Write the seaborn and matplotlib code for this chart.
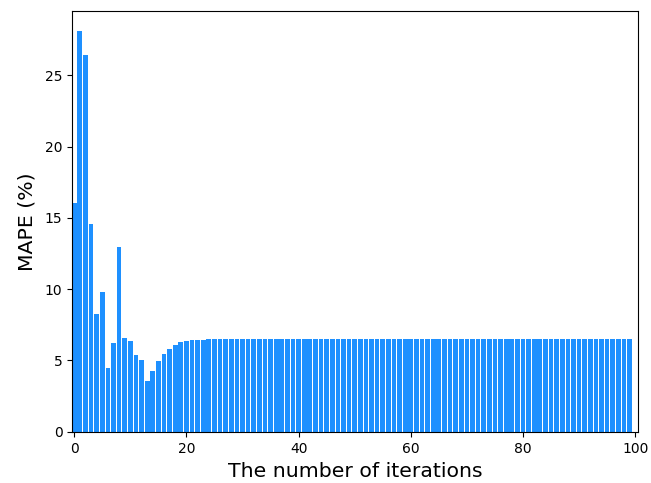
import matplotlib
matplotlib.use("Agg")
import matplotlib.pyplot as plt
import seaborn as sns
import pandas as pd

# MAPE per iteration
mape_head = [16.05, 28.1, 26.4, 14.6, 8.27, 9.8, 4.5, 6.25, 12.95, 6.6,
             6.38, 5.4, 5.05, 3.58, 4.27, 4.97, 5.46, 5.82, 6.1, 6.3,
             6.4, 6.44, 6.45, 6.47, 6.51]
mape_tail = [6.52, 6.52, 6.52, 6.52, 6.52, 6.52, 6.52, 6.52, 6.52, 6.52,
             6.52, 6.52, 6.52, 6.52, 6.52, 6.52, 6.52, 6.52, 6.52, 6.52,
             6.52, 6.52, 6.52, 6.52, 6.52, 6.52, 6.52, 6.52, 6.52, 6.52,
             6.52, 6.52, 6.52, 6.52, 6.52, 6.52, 6.52, 6.52, 6.52, 6.52,
             6.52, 6.52, 6.52, 6.52, 6.52, 6.52, 6.52, 6.52, 6.52, 6.52,
             6.52, 6.52, 6.52, 6.52, 6.52, 6.52, 6.52, 6.52, 6.52, 6.52,
             6.52, 6.52, 6.52, 6.52, 6.52, 6.52, 6.52, 6.52, 6.52, 6.52,
             6.52, 6.52, 6.52, 6.52, 6.52]
mape = mape_head + mape_tail
iterations = list(range(len(mape)))
x_ticks = [0, 20, 40, 60, 80, 100]

df = pd.DataFrame({"iteration": iterations, "mape": mape})

fig, ax = plt.subplots(figsize=(6.51, 4.83), dpi=100)
fig.subplots_adjust(left=0.111, right=0.980, top=0.977, bottom=0.106)

sns.barplot(data=df, x="iteration", y="mape", color="#1E90FF",
            saturation=1, width=0.84, ax=ax)

ax.set_xticks(x_ticks)
ax.set_xticklabels([str(t) for t in x_ticks])
ax.set_xlim(-0.35, 100.5)
ax.set_ylim(0, 29.5)
ax.set_xlabel("The number of iterations", fontsize=14.7, labelpad=5)
ax.set_ylabel("MAPE (%)", fontsize=14.7, labelpad=6)

plt.savefig("out.png", dpi=100)
plt.close()
